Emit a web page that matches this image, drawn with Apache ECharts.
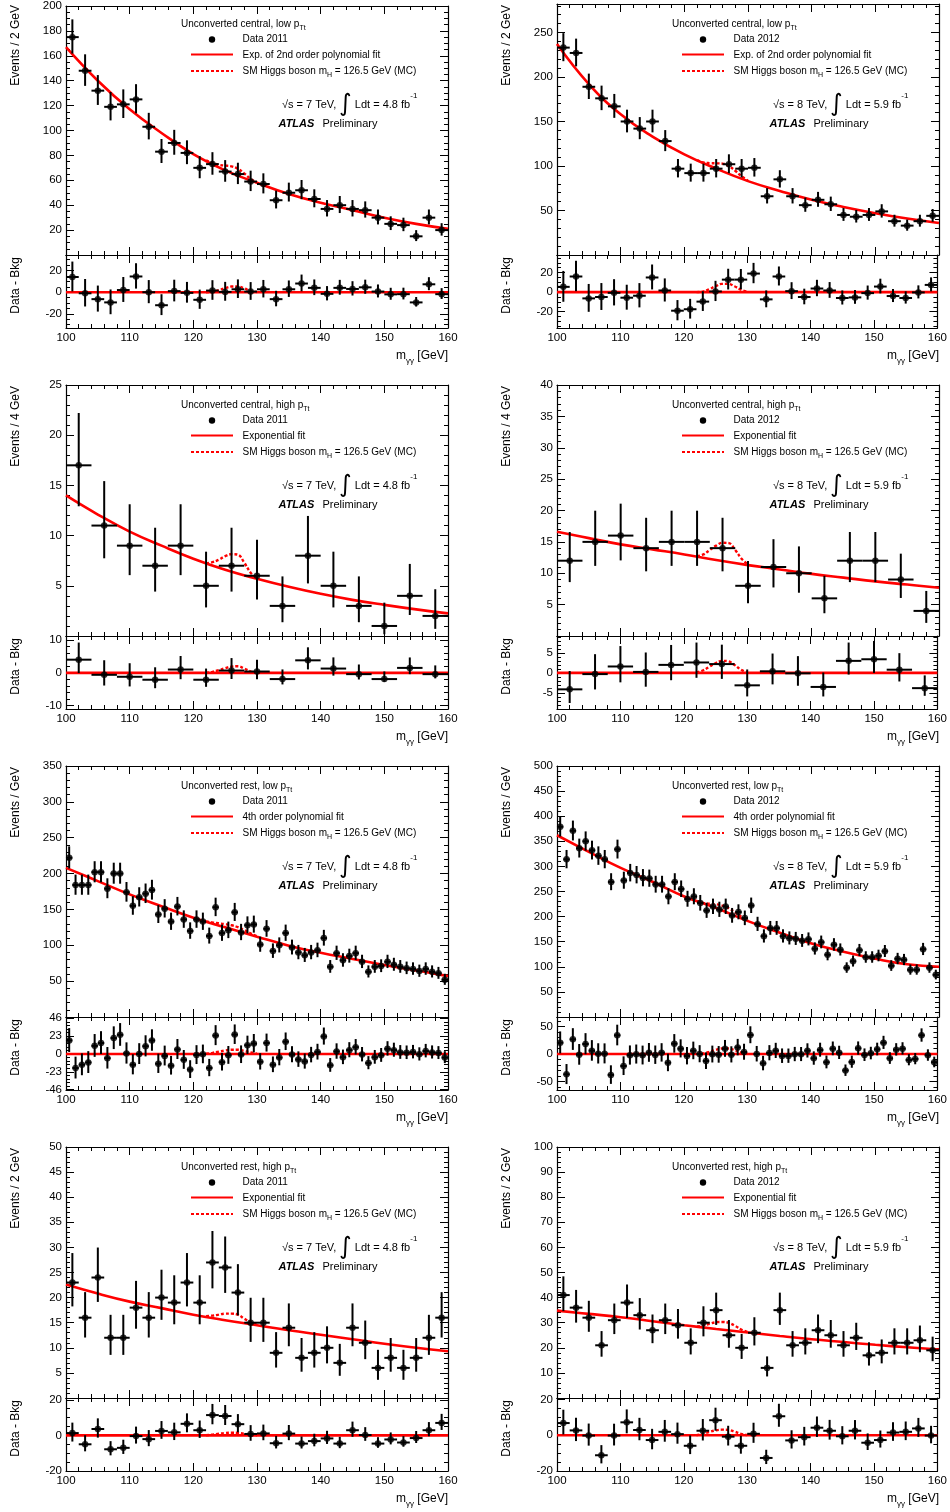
<!DOCTYPE html>
<html><head><meta charset="utf-8">
<script src="https://cdn.jsdelivr.net/npm/echarts@6/dist/echarts.min.js"></script>
<style>html,body{margin:0;padding:0;background:#fff}#c{width:950px;height:1512px}</style>
</head><body><div id="c"></div>
<script>
const FONT = '"Liberation Sans", Arial, Helvetica, sans-serif';
const RED = '#ff0000';
const FIT_X = [100,105,110,115,120,125,130,135,140,145,150,155,160];
const SIG_X = [122,123,124,125,126,127,128,129,130];
const ZERO_X = [100,160];
const ZERO_Y = [0,0];
const X_LABELS = [100,110,120,130,140,150,160];

// Panel 1: 2011, unconverted central, low pTt (2 GeV bins)
const p1Data = [175,148,132,119,121,125,103,83,90,82,70,73,67,65,59,57,44,50,52,45,37,40,37,36,30,25,24,15,30,20];
const p1Res  = [14,-1,-6.4,-9.4,2,14.5,0,-12,1,-0.6,-7,1.5,0.3,2.7,0.6,2.7,-6.4,2.7,8,4,-1.5,4,3,4.5,0.6,-2,-1.8,-9.4,7.3,-1.8];
const p1Fit  = [167,140,117,98,81,68,58,49,42,36,30,25,21];
const p1Sig  = [76,73.9,72.4,71.8,71.2,69.3,65.5,61.2,58.2];
const p1SigRes = [0,0.3,1.8,3.8,5.2,5.3,3.5,1.2,0.2];

// Panel 2: 2012, unconverted central, low pTt
const p2Data = [233,227,189,176,167,150,142,150,128,97,92,92,97,102,97,98,66,85,66,56,62,57,45,43,45,49,38,33,38,44];
const p2Res  = [5.4,16,-6.4,-5,-0.7,-5.7,-3.7,15,1.7,-19,-17.5,-9.7,0.7,12.8,12.8,19,-7.4,16,1,-5,3.7,1.7,-6,-5.4,-1,5.7,-4,-6,-0.3,7.4];
const p2Fit  = [237,192,158,133,113,97,83,72,62,54,47,41,36];
const p2Sig  = [106.6,103.9,103.2,103,102.7,99.9,94.6,88.3,83.5];
const p2SigRes = [0,0.5,3,6,8.5,8.5,6,2.5,0.5];

// Panel 3: 2011, unconverted central, high pTt (4 GeV bins)
const p3Data = [17,11,9,7,9,5,7,6,3,8,5,3,1,4,2];
const p3Res  = [4,-0.6,-1.2,-2.1,1,-2.1,0.7,0.4,-1.9,3.8,1.3,-0.4,-1.9,1.5,-0.4];
const p3Fit  = [14.0,12.1,10.4,9.0,7.7,6.6,5.7,4.9,4.2,3.6,3.1,2.65,2.25];
const p3Sig  = [7.26,7.35,7.6,7.95,8.15,8.1,7.3,6.3,5.7];
const p3SigRes = [0,0.3,0.8,1.4,1.9,2.0,1.3,0.4,0];

// Panel 4: 2012, unconverted central, high pTt
const p4Data = [12,15,16,14,15,15,14,8,11,10,6,12,12,9,4];
const p4Res  = [-4.1,-0.3,1.6,0.25,2,2.6,2.2,-3.1,0.4,-0.1,-3.5,3,3.4,0.8,-3.8];
const p4Fit  = [16.6,15.6,14.6,13.8,13.0,12.1,11.3,10.6,9.9,9.3,8.7,8.2,7.7];
const p4Sig  = [12.7,13.0,13.7,14.4,14.85,14.8,13.7,12.3,11.4];
const p4SigRes = [0.1,0.6,1.5,2.4,3.0,2.9,2.0,0.8,0.1];

// Panel 5: 2011, unconverted rest, low pTt (1 GeV bins)
const p5Data = [222,184,184,184,202,202,179,200,200,174,
                155,167,172,177,143,151,133,154,136,120,
                136,133,113,153,117,121,146,118,128,129,
                101,123,92,100,117,97,90,86,90,93,
                110,70,89,79,85,89,77,63,70,71,
                77,73,70,68,67,64,67,63,61,52];
const p5Res  = [17.5,-18,-13.8,-10.9,10.5,14.2,-5.4,20.5,24.7,0.8,
                -13.8,0,10,17.5,-12.5,-2.5,-15,5.9,-7.5,-20,
                -1.3,-0.4,-18,23.8,-10.5,-1.7,25,-0.8,11.3,13.4,
                -10,14.2,-13.8,-4.6,15.9,-0.8,-7.1,-9.6,-1.3,2.5,
                22.6,-14.6,3.3,-4.2,5,8.8,-0.8,-11.7,-4.2,-1.7,
                6.7,5,2.1,1.7,2.5,-0.4,3.8,2.1,1.3,-4.6];
const p5Fit  = [208,189.5,171,154.5,138.5,125,112,99.5,89.5,81,72.5,65,57];
const p5Sig  = [133.4,131.9,130.7,129.5,127.9,125.3,121.2,116.6,112.5];
const p5SigRes = [0.3,1.5,3,4.5,5.5,5.5,4,2,0.5];

// Panel 6: 2012, unconverted rest, low pTt
const p6Data = [379,314,371,336,350,332,321,314,269,334,
                272,287,283,277,276,264,264,240,269,255,
                235,240,227,212,220,214,220,202,209,197,
                222,185,161,177,177,161,157,156,152,155,
                136,149,124,144,134,98,111,133,119,119,
                122,131,102,116,114,94,94,135,98,84];
const p6Res  = [20.6,-37,26.7,-1.2,18.2,6,0.6,0.6,-38,34,
                -21.8,-2.4,-0.6,-2.4,2.4,-1.8,2.4,-15.8,18.8,9.7,
                -3.6,6,0,-12.7,-0.6,-1.2,9.7,-1.2,12,3.6,
                34.5,0,-17,1.8,6,-3.6,-3.6,-0.6,-0.6,6,
                -7.9,7.3,-15,9.7,2.4,-30,-14.5,10.3,-1.8,1.2,
                8.5,20.6,-7.9,7.9,9.7,-10.9,-9,34,-2.4,-15];
const p6Fit  = [362,329,297,269.5,240,217,191,168,146.5,130,116,105,100];
const p6Sig  = [230.8,227.2,225.6,224.5,221.8,216.6,208.4,199.2,191.5];
const p6SigRes = [0,1,4,7.5,10,10,7,3,0.5];

// Panel 7: 2011, unconverted rest, high pTt (2 GeV bins)
const p7Data = [23,16,24,12,12,18,16,20,19,23,19,27,26,21,15,15,9,14,8,9,10,7,14,11,6,8,6,8,12,16];
const p7Res  = [1.3,-5,3.6,-7.8,-7,-0.4,-2.1,2.5,1.7,6.5,2.9,11.4,10.9,6.3,0.8,1.1,-4.4,1,-4.6,-3.2,-1.7,-4.6,2.9,0.2,-4.6,-2.3,-4,-1.5,2.9,7];
const p7Fit  = [22.6,20.8,19.2,17.9,16.6,15.5,14.5,13.5,12.6,11.7,10.8,10.0,9.3];
const p7Sig  = [16.3,16.4,16.6,16.8,16.8,16.6,15.8,15.1,14.6];
const p7SigRes = [0.1,0.4,0.9,1.3,1.5,1.4,0.9,0.3,0];

// Panel 8: 2012, unconverted rest, high pTt
const p8Data = [41,36,32,21,31,38,33,27,31,29,22,30,35,25,20,26,12,35,21,22,27,25,21,24,17,18,22,22,23,19];
const p8Res  = [6.8,2.7,-0.2,-11.2,-0.2,7.2,2.9,-2.7,1.9,0.6,-5.9,2.5,8.4,-0.8,-5.9,0.8,-12.7,10.6,-2.9,-1.1,4.2,2.5,-0.6,2.5,-4.2,-2.7,1.5,1.9,3.8,-0.2];
const p8Fit  = [34.8,33.5,32.2,30.6,29.0,27.5,26.1,24.7,23.4,22.3,21.2,20.2,19.3];
const p8Sig  = [28.4,28.9,29.6,30.2,30.3,29.9,28.7,27.2,26.2];
const p8SigRes = [0,0.8,1.8,2.7,3.1,3.0,2.0,0.8,0.1];

const panels = [
 {data:p1Data,res:p1Res,fit:p1Fit,sig:p1Sig,sigRes:p1SigRes,bw:2,yMax:200,yMaj:20,yMn:5,rMin:-33,rMax:34.3,rMaj:20,rMn:5,yTitle:'Events / 2 GeV',cat:'Unconverted central, low p',year:'2011',fitName:'Exp. of 2nd order polynomial fit',rs:'7',lumi:'4.8'},
 {data:p2Data,res:p2Res,fit:p2Fit,sig:p2Sig,sigRes:p2SigRes,bw:2,yMax:282,yMaj:50,yMn:10,rMin:-36.7,rMax:38,rMaj:20,rMn:5,yTitle:'Events / 2 GeV',cat:'Unconverted central, low p',year:'2012',fitName:'Exp. of 2nd order polynomial fit',rs:'8',lumi:'5.9'},
 {data:p3Data,res:p3Res,fit:p3Fit,sig:p3Sig,sigRes:p3SigRes,bw:4,yMax:25,yMaj:5,yMn:1,rMin:-11,rMax:11.2,rMaj:10,rMn:2,yTitle:'Events / 4 GeV',cat:'Unconverted central, high p',year:'2011',fitName:'Exponential fit',rs:'7',lumi:'4.8'},
 {data:p4Data,res:p4Res,fit:p4Fit,sig:p4Sig,sigRes:p4SigRes,bw:4,yMax:40,yMaj:5,yMn:1,rMin:-9,rMax:9.2,rMaj:5,rMn:1,yTitle:'Events / 4 GeV',cat:'Unconverted central, high p',year:'2012',fitName:'Exponential fit',rs:'8',lumi:'5.9'},
 {data:p5Data,res:p5Res,fit:p5Fit,sig:p5Sig,sigRes:p5SigRes,bw:1,yMax:350,yMaj:50,yMn:10,rMin:-46.4,rMax:47.7,rMaj:23,rMn:4.6,yTitle:'Events / GeV',cat:'Unconverted rest, low p',year:'2011',fitName:'4th order polynomial fit',rs:'7',lumi:'4.8'},
 {data:p6Data,res:p6Res,fit:p6Fit,sig:p6Sig,sigRes:p6SigRes,bw:1,yMax:500,yMaj:50,yMn:10,rMin:-65.5,rMax:67.3,rMaj:50,rMn:10,yTitle:'Events / GeV',cat:'Unconverted rest, low p',year:'2012',fitName:'4th order polynomial fit',rs:'8',lumi:'5.9'},
 {data:p7Data,res:p7Res,fit:p7Fit,sig:p7Sig,sigRes:p7SigRes,bw:2,yMax:50,yMaj:5,yMn:1,rMin:-20,rMax:21,rMaj:20,rMn:5,yTitle:'Events / 2 GeV',cat:'Unconverted rest, high p',year:'2011',fitName:'Exponential fit',rs:'7',lumi:'4.8'},
 {data:p8Data,res:p8Res,fit:p8Fit,sig:p8Sig,sigRes:p8SigRes,bw:2,yMax:100,yMaj:10,yMn:2,rMin:-20,rMax:20.8,rMaj:20,rMn:5,yTitle:'Events / 2 GeV',cat:'Unconverted rest, high p',year:'2012',fitName:'Exponential fit',rs:'8',lumi:'5.9'}
];

// layout
const COLS = [66, 557];
const ROW_TOP = [4, 385, 766, 1147];
const W = 382, HM = 251, HR = 73;

function tickVals(min, max, step) {
  const out = [];
  const s = Math.ceil(min / step - 1e-9);
  for (let k = s; k * step <= max + 1e-9; k++) out.push(+(k * step).toFixed(6));
  return out;
}
function errUp(n) { return n > 0 ? Math.sqrt(n + 0.75) + 1 : 1.84; }
function errLo(n) { if (n <= 0) return 0; const t = 1 - 1/(9*n) - 1/(3*Math.sqrt(n)); return n - n*t*t*t; }

const grids = [], xAxes = [], yAxes = [], series = [], graphics = [];
const tickStyle = {color:'#000', width:1};
function xAx(gi, pos, vals, len, line, labels) {
  return {type:'value', gridIndex:gi, min:100, max:160, position:pos,
    axisLine:{show:line, onZero:false, lineStyle:{color:'#000', width:1.2}},
    axisTick:{show:true, inside:true, length:len, customValues:vals, lineStyle:tickStyle},
    axisLabel: labels ? {show:true, customValues:labels, margin:4, fontSize:11.5, color:'#000', fontFamily:FONT} : {show:false},
    splitLine:{show:false}, minorTick:{show:false}};
}
function yAx(gi, pos, min, max, vals, len, line, labels) {
  return {type:'value', gridIndex:gi, min:min, max:max, position:pos,
    axisLine:{show:line, onZero:false, lineStyle:{color:'#000', width:1.2}},
    axisTick:{show:true, inside:true, length:len, customValues:vals, lineStyle:tickStyle},
    axisLabel: labels ? {show:true, customValues:labels, margin:4, fontSize:11.5, color:'#000', fontFamily:FONT} : {show:false},
    splitLine:{show:false}, minorTick:{show:false}};
}
function addGrid(gi, left, top, height, ymin, ymax, yMaj, yMn, yLabels, xLabels) {
  grids.push({left:left, top:top, width:W, height:height, containLabel:false});
  const xMaj = tickVals(100, 160, 10), xMn = tickVals(100, 160, 2);
  xAxes.push(xAx(gi, 'bottom', xMaj, 8, true, xLabels ? X_LABELS : null));
  xAxes.push(xAx(gi, 'bottom', xMn, 4, false, null));
  xAxes.push(xAx(gi, 'top', xMaj, 8, true, null));
  xAxes.push(xAx(gi, 'top', xMn, 4, false, null));
  const ma = tickVals(ymin, ymax, yMaj), mi = tickVals(ymin, ymax, yMn);
  yAxes.push(yAx(gi, 'left', ymin, ymax, ma, 8, true, yLabels));
  yAxes.push(yAx(gi, 'left', ymin, ymax, mi, 4, false, null));
  yAxes.push(yAx(gi, 'right', ymin, ymax, ma, 8, true, null));
  yAxes.push(yAx(gi, 'right', ymin, ymax, mi, 4, false, null));
}

function errRender(params, api) {
  const cs = params.coordSys;
  const x = api.value(0), y = api.value(1), lo = api.value(2), hi = api.value(3), hw = api.value(4);
  const cy = v => Math.max(cs.y, Math.min(cs.y + cs.height, v));
  const p = api.coord([x, y]);
  const pl = api.coord([x - hw, y]), pr = api.coord([x + hw, y]);
  const pt = api.coord([x, hi]), pb = api.coord([x, lo]);
  const ch = [];
  if (p[1] >= cs.y && p[1] <= cs.y + cs.height)
    ch.push({type:'line', shape:{x1:pl[0], y1:p[1], x2:pr[0], y2:p[1]}, style:{stroke:'#000', lineWidth:2}});
  ch.push({type:'line', shape:{x1:p[0], y1:cy(pt[1]), x2:p[0], y2:cy(pb[1])}, style:{stroke:'#000', lineWidth:2}});
  return {type:'group', children:ch};
}

const R10 = {n:{fontSize:10, lineHeight:15, fontFamily:FONT, fill:'#000'},
             s:{fontSize:7, lineHeight:7, verticalAlign:'bottom', fontFamily:FONT, fill:'#000'}};
const R11 = {n:{fontSize:11, lineHeight:26, fontFamily:FONT, fill:'#000'},
             i:{fontSize:24, lineHeight:26, fontFamily:'"DejaVu Sans", ' + FONT, fill:'#000'},
             p:{fontSize:8, lineHeight:14, verticalAlign:'top', fontFamily:FONT, fill:'#000'}};
const R12 = {n:{fontSize:12, lineHeight:17, fontFamily:FONT, fill:'#000'},
             s:{fontSize:8, lineHeight:8, verticalAlign:'bottom', fontFamily:FONT, fill:'#000'}};
function txt(x, y, text, rich, align, extra) {
  const el = {type:'text', x:x, y:y, silent:true, z:100,
    style:{text:text, rich:rich, align:align || 'left', verticalAlign:'middle', fontFamily:FONT, fill:'#000'}};
  return Object.assign(el, extra || {});
}

panels.forEach((P, p) => {
  const gx = COLS[p % 2], gy = ROW_TOP[Math.floor(p / 2)];
  const gm = 2 * p, gr = 2 * p + 1;
  addGrid(gm, gx, gy, HM, 0, P.yMax, P.yMaj, P.yMn, tickVals(0, P.yMax, P.yMaj).filter(v => v !== 0), false);
  addGrid(gr, gx, gy + HM, HR, P.rMin, P.rMax, P.rMaj, P.rMn, tickVals(P.rMin, P.rMax, P.rMaj), true);
  const am = gm * 4, ar = gr * 4;
  const xs = P.data.map((_, i) => 100 + P.bw * (i + 0.5));
  const hw = P.bw / 2;
  const errMain = P.data.map((n, i) => [xs[i], n, n - errLo(n), n + errUp(n), hw]);
  const errRes = P.res.map((r, i) => [xs[i], r, r - errLo(P.data[i]), r + errUp(P.data[i]), hw]);
  const common = {silent:true, animation:false};
  // main
  series.push(Object.assign({type:'line', xAxisIndex:am, yAxisIndex:am, data:FIT_X.map((x, i) => [x, P.fit[i]]),
    smooth:0.45, symbol:'none', lineStyle:{color:RED, width:2.6}, z:2}, common));
  series.push(Object.assign({type:'line', xAxisIndex:am, yAxisIndex:am, data:SIG_X.map((x, i) => [x, P.sig[i]]),
    smooth:0.4, symbol:'none', lineStyle:{color:RED, width:2.4, type:[3,2]}, z:3}, common));
  series.push(Object.assign({type:'custom', xAxisIndex:am, yAxisIndex:am, data:errMain, renderItem:errRender,
    encode:{x:0, y:1}, z:4}, common));
  series.push(Object.assign({type:'scatter', xAxisIndex:am, yAxisIndex:am, data:P.data.map((n, i) => [xs[i], n]),
    symbol:'circle', symbolSize:6.5, itemStyle:{color:'#000'}, z:5}, common));
  // residual
  series.push(Object.assign({type:'line', xAxisIndex:ar, yAxisIndex:ar, data:ZERO_X.map((x, i) => [x, ZERO_Y[i]]),
    symbol:'none', lineStyle:{color:RED, width:2.6}, z:2}, common));
  series.push(Object.assign({type:'line', xAxisIndex:ar, yAxisIndex:ar, data:SIG_X.map((x, i) => [x, P.sigRes[i]]),
    smooth:0.4, symbol:'none', lineStyle:{color:RED, width:2.4, type:[3,2]}, z:3}, common));
  series.push(Object.assign({type:'custom', xAxisIndex:ar, yAxisIndex:ar, data:errRes, renderItem:errRender,
    encode:{x:0, y:1}, z:4}, common));
  series.push(Object.assign({type:'scatter', xAxisIndex:ar, yAxisIndex:ar, data:P.res.map((r, i) => [xs[i], r]),
    symbol:'circle', symbolSize:6.5, itemStyle:{color:'#000'}, z:5}, common));

  // texts
  graphics.push(txt(gx + 115, gy + 20, '{n|' + P.cat + '}{s|Tt}', R10));
  graphics.push({type:'circle', silent:true, z:100, shape:{cx:gx + 146, cy:gy + 35.5, r:3.2}, style:{fill:'#000'}});
  graphics.push(txt(gx + 176.5, gy + 35.5, '{n|Data ' + P.year + '}', R10));
  graphics.push({type:'line', silent:true, z:100, shape:{x1:gx + 125, y1:gy + 50.5, x2:gx + 167, y2:gy + 50.5}, style:{stroke:RED, lineWidth:2}});
  graphics.push(txt(gx + 176.5, gy + 51, '{n|' + P.fitName + '}', R10));
  graphics.push({type:'line', silent:true, z:100, shape:{x1:gx + 125, y1:gy + 67, x2:gx + 167, y2:gy + 67}, style:{stroke:RED, lineWidth:2, lineDash:[3,2]}});
  graphics.push(txt(gx + 176.5, gy + 67, '{n|SM Higgs boson m}{s|H}{n| = 126.5 GeV (MC)}', R10));
  graphics.push(txt(gx + 216, gy + 101, '{n|\u221As = ' + P.rs + ' TeV, }{i|\u222B}{n| Ldt = ' + P.lumi + ' fb}{p|-1}', R11));
  graphics.push({type:'text', x:gx + 212.5, y:gy + 120, silent:true, z:100,
    style:{text:'ATLAS', fontSize:11, fontWeight:'bold', fontStyle:'italic', fontFamily:FONT, fill:'#000', verticalAlign:'middle', align:'left'}});
  graphics.push({type:'text', x:gx + 256.5, y:gy + 120, silent:true, z:100,
    style:{text:'Preliminary', fontSize:11, fontFamily:FONT, fill:'#000', verticalAlign:'middle', align:'left'}});
  // axis titles
  graphics.push({type:'text', x:gx - 50, y:gy + 1, rotation:Math.PI / 2, silent:true, z:100,
    style:{text:P.yTitle, fontSize:12, fontFamily:FONT, fill:'#000', align:'right', verticalAlign:'middle'}});
  graphics.push({type:'text', x:gx - 50, y:gy + HM + 2, rotation:Math.PI / 2, silent:true, z:100,
    style:{text:'Data - Bkg', fontSize:12, fontFamily:FONT, fill:'#000', align:'right', verticalAlign:'middle'}});
  graphics.push(txt(gx + W, gy + HM + HR + 28, '{n|m}{s|\u03B3\u03B3}{n| [GeV]}', R12, 'right'));
});

const chart = echarts.init(document.getElementById('c'), null, {renderer:'canvas', width:950, height:1512});
chart.setOption({
  animation:false,
  backgroundColor:'#ffffff',
  textStyle:{fontFamily:FONT},
  grid:grids, xAxis:xAxes, yAxis:yAxes, series:series, graphic:graphics
});
</script></body></html>
